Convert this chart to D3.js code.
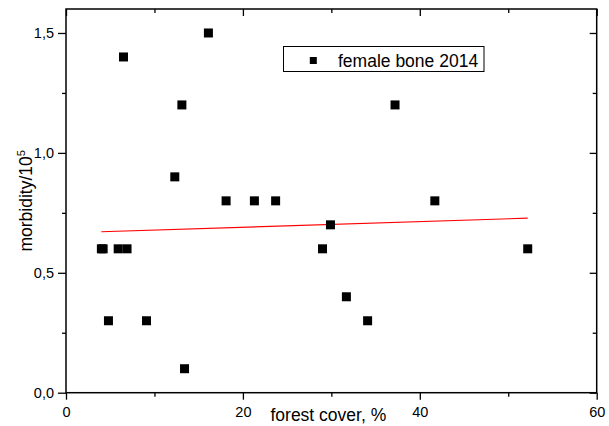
<!DOCTYPE html>
<meta charset="utf-8">
<style>
    body { margin: 0; background: #fff; }
    text { font-family: Arial, "Liberation Sans", sans-serif; fill: #000; }
    .axis-title { font-size: 17.5px; }
    .legend-text { font-size: 17.5px; }
</style>
<body>
    <svg width="609" height="426"></svg>
</body>
<script src="https://d3js.org/d3.v7.min.js"></script>
<script>
    // forest cover (%) vs morbidity per 10^5, female bone 2014
    var forest = [4.0, 4.2, 4.8, 5.9, 6.9, 6.5, 9.1, 12.3, 13.1, 13.4, 16.1, 18.1, 21.3, 23.7, 29.0, 29.9, 31.7, 34.1, 37.2, 41.7, 52.2];
    var morbidity = [0.6, 0.6, 0.3, 0.6, 0.6, 1.4, 0.3, 0.9, 1.2, 0.1, 1.5, 0.8, 0.8, 0.8, 0.6, 0.7, 0.4, 0.3, 1.2, 0.8, 0.6];

    // linear fit
    var fitX = [4.0, 52.2];
    var fitY = [0.671, 0.728];

    var xMajor = [0, 20, 40, 60];
    var xMinor = [10, 30, 50];
    var yMajor = [0, 0.5, 1.0, 1.5];
    var yMinor = [0.25, 0.75, 1.25];

    var seriesName = "female bone 2014";

    function draw() {
        var svg = d3.select("svg"),
            mLeft = 66, mRight = 596.7, mTop = 9, mBottom = 392.7;

        var x = d3.scaleLinear().domain([0, 60]).range([mLeft, mRight]);
        var y = d3.scaleLinear().domain([0, 1.6]).range([mBottom, mTop]);

        var fmt = function (d) { return d3.format(".1f")(d).replace(".", ","); };

        // fit line
        svg.append("line")
            .attr("x1", x(fitX[0])).attr("y1", y(fitY[0]))
            .attr("x2", x(fitX[1])).attr("y2", y(fitY[1]))
            .attr("stroke", "#ff0000")
            .attr("stroke-width", 1.1);

        // points
        var ms = 9;
        svg.selectAll("rect.pt")
            .data(forest)
            .enter().append("rect")
            .attr("class", "pt")
            .attr("x", function (d) { return x(d) - ms / 2; })
            .attr("y", function (d, i) { return y(morbidity[i]) - ms / 2; })
            .attr("width", ms)
            .attr("height", ms)
            .attr("fill", "#000");

        // axes
        var bottomAxis = d3.axisBottom(x).tickValues(xMajor).tickSize(7).tickPadding(7).tickFormat(d3.format("d"));
        var bottomMinor = d3.axisBottom(x).tickValues(xMinor).tickSize(4).tickFormat("");
        var topAxis = d3.axisBottom(x).tickValues(xMajor).tickSize(7).tickFormat("");
        var topMinor = d3.axisBottom(x).tickValues(xMinor).tickSize(4).tickFormat("");
        var leftAxis = d3.axisLeft(y).tickValues(yMajor).tickSize(8).tickPadding(4).tickFormat(fmt);
        var leftMinor = d3.axisLeft(y).tickValues(yMinor).tickSize(4).tickFormat("");
        var rightAxis = d3.axisLeft(y).tickValues(yMajor).tickSize(7).tickFormat("");
        var rightMinor = d3.axisLeft(y).tickValues(yMinor).tickSize(4).tickFormat("");

        function put(axis, tx, ty) {
            var g = svg.append("g")
                .attr("transform", "translate(" + tx + "," + ty + ")")
                .call(axis)
                .attr("font-size", 14.5)
                .attr("font-family", "Arial, 'Liberation Sans', sans-serif");
            g.select(".domain").remove();
            g.selectAll("line").attr("stroke", "#000").attr("stroke-width", 1.3);
            g.selectAll("text").attr("fill", "#000");
            return g;
        }
        put(bottomAxis, 0, mBottom);
        put(bottomMinor, 0, mBottom);
        put(topAxis, 0, mTop);
        put(topMinor, 0, mTop);
        put(leftAxis, mLeft, 0);
        put(leftMinor, mLeft, 0);
        put(rightAxis, mRight, 0);
        put(rightMinor, mRight, 0);

        // frame
        svg.append("rect")
            .attr("x", mLeft).attr("y", mTop)
            .attr("width", mRight - mLeft).attr("height", mBottom - mTop)
            .attr("fill", "none")
            .attr("stroke", "#000")
            .attr("stroke-width", 1.5);

        // axis titles
        svg.append("text")
            .attr("class", "axis-title")
            .attr("x", (mLeft + mRight) / 2 - 3)
            .attr("y", 421)
            .attr("text-anchor", "middle")
            .text("forest cover, %");

        var yt = svg.append("text")
            .attr("class", "axis-title")
            .attr("transform", "translate(32," + ((mTop + mBottom) / 2) + ") rotate(-90)")
            .attr("text-anchor", "middle");
        yt.append("tspan").text("morbidity/10");
        yt.append("tspan").attr("dy", -7).attr("font-size", "11px").text("5");

        // legend
        var lg = svg.append("g");
        lg.append("rect")
            .attr("x", 283.5).attr("y", 46.5)
            .attr("width", 200.5).attr("height", 25)
            .attr("fill", "#fff")
            .attr("stroke", "#000")
            .attr("stroke-width", 1);
        lg.append("rect")
            .attr("x", 313.3 - 3.5).attr("y", 60.5 - 3.5)
            .attr("width", 7).attr("height", 7)
            .attr("fill", "#000");
        lg.append("text")
            .attr("class", "legend-text")
            .attr("x", 338)
            .attr("y", 66.5)
            .text(seriesName);
    }
    draw();
</script>
